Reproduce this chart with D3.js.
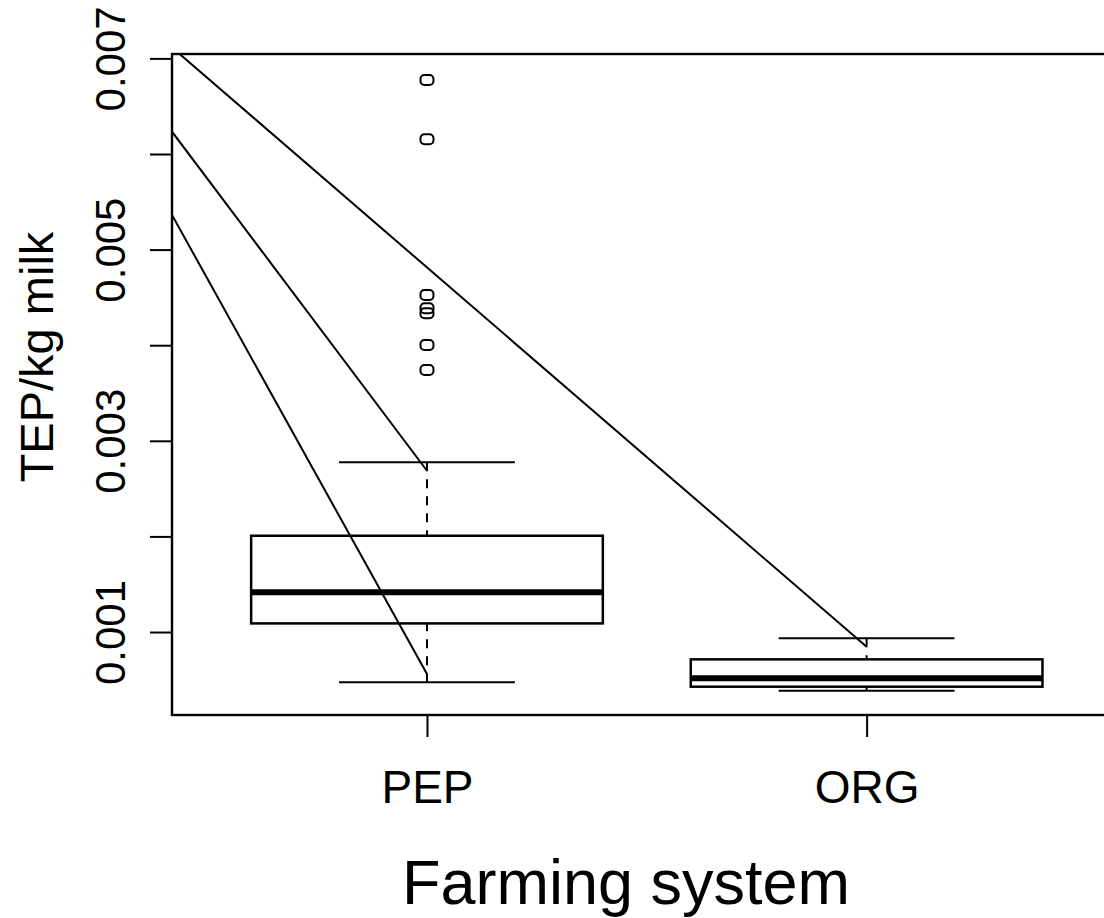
<!DOCTYPE html>
<html>
<head>
<meta charset="utf-8">
<script src="https://d3js.org/d3.v7.min.js"></script>
<style>
  html, body { margin: 0; padding: 0; background: #fff; }
  svg { display: block; font-family: "Liberation Sans", Arial, Helvetica, sans-serif; }
</style>
</head>
<body>
<div id="chart"></div>
<script>
// Farming system boxplot with overlaid lines
const categories = ["PEP", "ORG"];
const lowerWhisker = [0.000474, 0.000386];
const q1 = [0.00109, 0.000428];
const medians = [0.001415, 0.000516];
const q3 = [0.002007, 0.000714];
const upperWhisker = [0.002775, 0.000934];
const outliersPEP = [0.006774, 0.006154, 0.004525, 0.004386, 0.004334, 0.004002, 0.003741];

// overlay segments (x in group units, y in TEP/kg milk)
const segStartX = [0.42, 0.42, 0.42];
const segStartY = [0.007115, 0.006233, 0.005362];
const segEndX = [2, 1, 1];
const segEndY = [0.000846, 0.002687, 0.000561];

const yTicks = [0.001, 0.002, 0.003, 0.004, 0.005, 0.006, 0.007];
const yTickLabels = ["0.001", "", "0.003", "", "0.005", "", "0.007"];

const width = 1104, height = 918;
const plot = { left: 172, top: 54, right: 1121.6, bottom: 715 };

const svg = d3.select('#chart').append('svg')
  .attr('width', width)
  .attr('height', height);

const x = d3.scaleLinear().domain([0.42, 2.58]).range([plot.left, plot.right]);
const y = d3.scaleLinear().domain([0.000132, 0.007046]).range([plot.bottom, plot.top]);

svg.append('clipPath').attr('id', 'plotClip')
  .append('rect')
  .attr('x', plot.left).attr('y', plot.top)
  .attr('width', plot.right - plot.left).attr('height', plot.bottom - plot.top);

const boxHalf = 0.4, capHalf = 0.2;

const boxes = svg.append('g');
categories.forEach((c, i) => {
  const cx = x(i + 1);
  // whiskers, drawn from the cap toward the box
  [[upperWhisker[i], q3[i]], [lowerWhisker[i], q1[i]]].forEach(([from, to]) => {
    boxes.append('line')
      .attr('x1', cx).attr('x2', cx)
      .attr('y1', y(from)).attr('y2', y(to))
      .attr('stroke', '#000').attr('stroke-width', 2)
      .attr('stroke-dasharray', '9,8');
  });
  // caps
  [upperWhisker[i], lowerWhisker[i]].forEach(v => {
    boxes.append('line')
      .attr('x1', x(i + 1 - capHalf)).attr('x2', x(i + 1 + capHalf))
      .attr('y1', y(v)).attr('y2', y(v))
      .attr('stroke', '#000').attr('stroke-width', 2);
  });
  // box
  boxes.append('rect')
    .attr('x', x(i + 1 - boxHalf))
    .attr('y', y(q3[i]))
    .attr('width', x(i + 1 + boxHalf) - x(i + 1 - boxHalf))
    .attr('height', y(q1[i]) - y(q3[i]))
    .attr('fill', 'none').attr('stroke', '#000').attr('stroke-width', 2.5);
  // median
  boxes.append('line')
    .attr('x1', x(i + 1 - boxHalf)).attr('x2', x(i + 1 + boxHalf))
    .attr('y1', y(medians[i])).attr('y2', y(medians[i]))
    .attr('stroke', '#000').attr('stroke-width', 6);
});

// outliers
svg.append('g').selectAll('rect')
  .data(outliersPEP)
  .enter()
  .append('rect')
  .attr('x', x(1) - 6.5)
  .attr('y', d => y(d) - 5)
  .attr('width', 13).attr('height', 10)
  .attr('rx', 4).attr('ry', 4)
  .attr('fill', 'none').attr('stroke', '#000').attr('stroke-width', 2);

// overlay lines
svg.append('g').attr('clip-path', 'url(#plotClip)')
  .selectAll('line')
  .data(segStartX.map((d, i) => i))
  .enter()
  .append('line')
  .attr('x1', i => x(segStartX[i])).attr('y1', i => y(segStartY[i]))
  .attr('x2', i => x(segEndX[i])).attr('y2', i => y(segEndY[i]))
  .attr('stroke', '#000').attr('stroke-width', 2);

// frame
svg.append('rect')
  .attr('x', plot.left).attr('y', plot.top)
  .attr('width', plot.right - plot.left).attr('height', plot.bottom - plot.top)
  .attr('fill', 'none').attr('stroke', '#000').attr('stroke-width', 2.4);

// y axis
const yAxis = d3.axisLeft(y)
  .tickValues(yTicks)
  .tickSize(22)
  .tickPadding(0)
  .tickFormat((d, i) => yTickLabels[i]);
const gy = svg.append('g')
  .attr('transform', `translate(${plot.left},0)`)
  .call(yAxis);
gy.select('.domain').remove();
gy.selectAll('.tick line').attr('stroke', '#000').attr('stroke-width', 2);
gy.selectAll('.tick text')
  .attr('x', 0).attr('y', 0).attr('dy', null)
  .attr('transform', 'translate(-47,0) rotate(-90)')
  .attr('text-anchor', 'middle')
  .attr('fill', '#000')
  .style('font-size', '42px');

// x axis
const xAxis = d3.axisBottom(x)
  .tickValues([1, 2])
  .tickSize(22)
  .tickPadding(0)
  .tickFormat((d, i) => categories[i]);
const gx = svg.append('g')
  .attr('transform', `translate(0,${plot.bottom})`)
  .call(xAxis);
gx.select('.domain').remove();
gx.selectAll('.tick line').attr('stroke', '#000').attr('stroke-width', 2);
gx.selectAll('.tick text')
  .attr('y', 88).attr('dy', null)
  .attr('fill', '#000')
  .style('font-size', '46px');

// titles
svg.append('text')
  .attr('x', 626).attr('y', 904)
  .attr('text-anchor', 'middle')
  .style('font-size', '63px')
  .text('Farming system');

svg.append('text')
  .attr('transform', 'translate(53,357) rotate(-90)')
  .attr('text-anchor', 'middle')
  .style('font-size', '47px')
  .text('TEP/kg milk');
</script>
</body>
</html>
